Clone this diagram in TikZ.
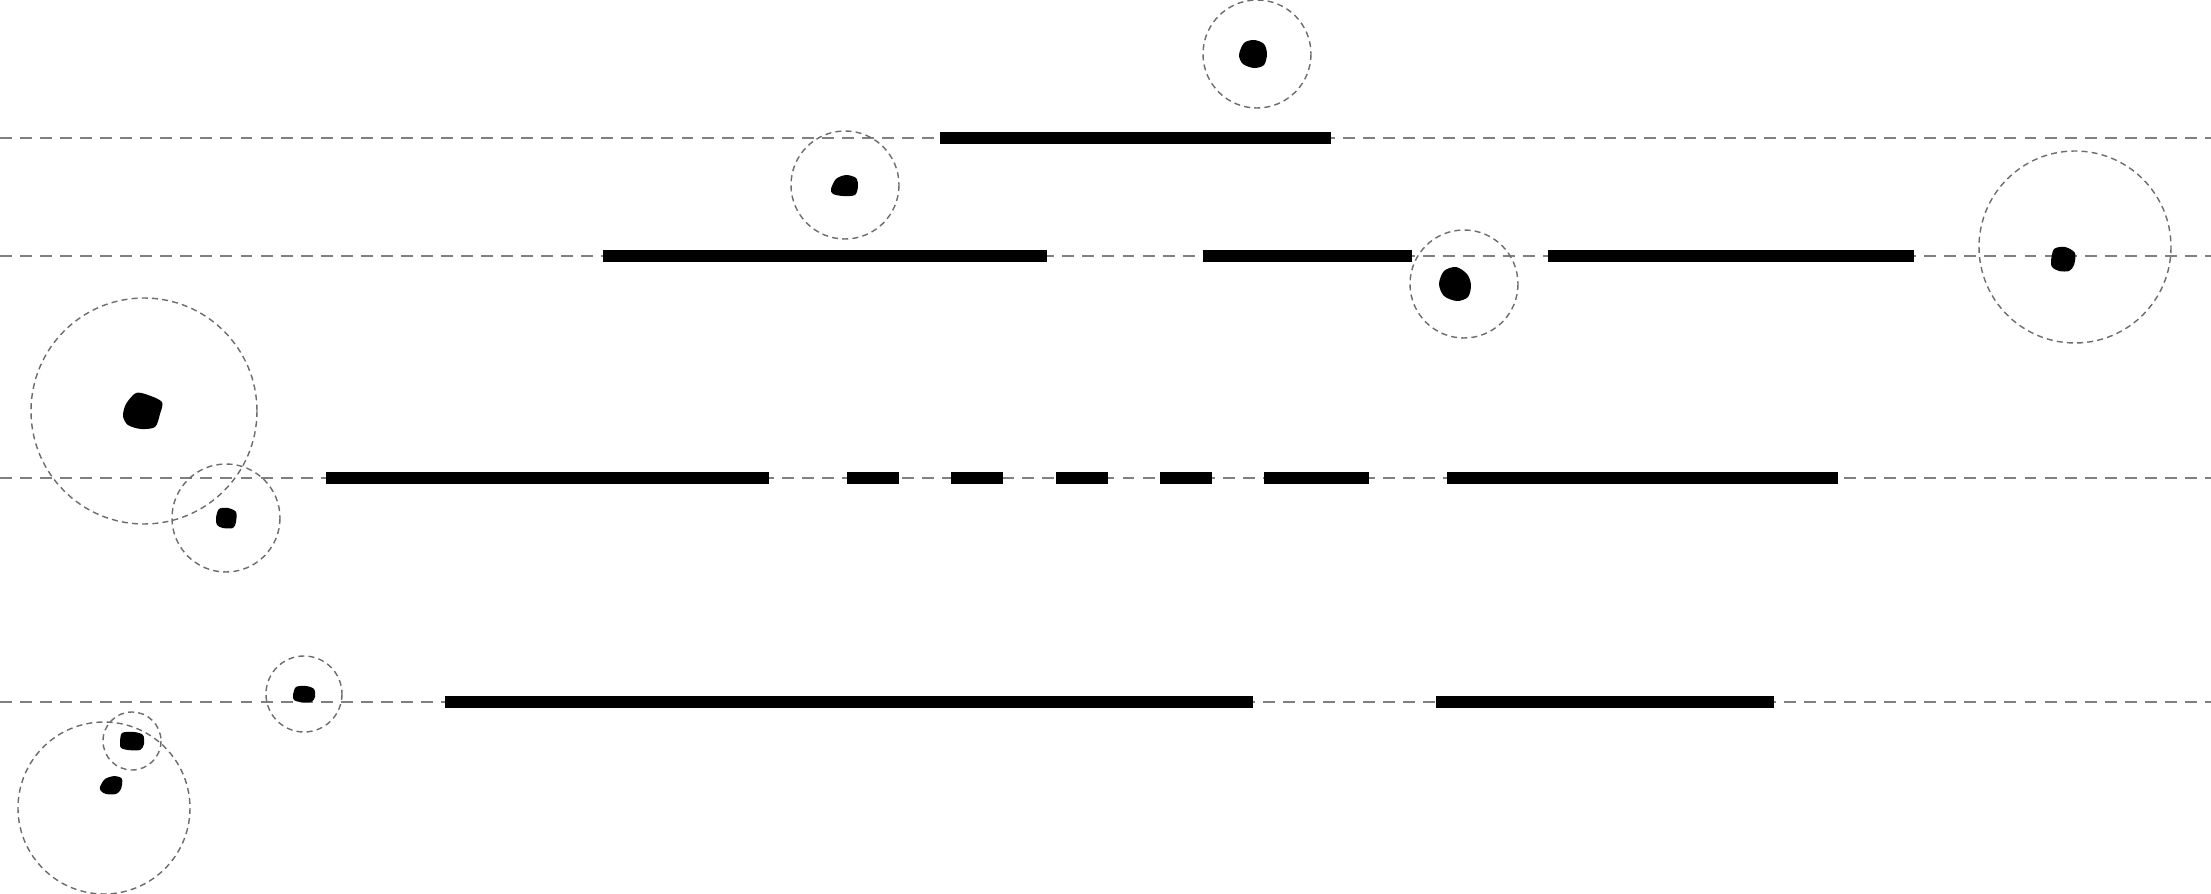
\documentclass[tikz,border=0pt]{standalone}
\usepackage{tikz}

\begin{document}
\begin{tikzpicture}[x=0.01cm,y=-0.01cm,
		guide/.style={gray,line width=0.6pt,dash pattern=on 3.4pt off 2.3pt},
		bar/.style={black,line width=0.12cm},
		halo/.style={gray!85!black,line width=0.4pt,dash pattern=on 1.7pt off 1.2pt},
		blob/.style={fill=black}]
				\useasboundingbox (0,0) rectangle (2211,894);
				% guide lines
				\draw[guide] (0,138) -- (2211,138);
				\draw[guide] (0,256) -- (2211,256);
				\draw[guide] (0,478) -- (2211,478);
				\draw[guide] (0,702) -- (2211,702);
				% bars on line 1
				\draw[bar] (940,138) -- (1331,138);
				% bars on line 2
				\draw[bar] (603,256) -- (1047,256);
				\draw[bar] (1203,256) -- (1412,256);
				\draw[bar] (1548,256) -- (1914,256);
				% bars on line 3
				\draw[bar] (326,478) -- (769,478);
				\draw[bar] (847,478) -- (899,478);
				\draw[bar] (951,478) -- (1003,478);
				\draw[bar] (1056,478) -- (1108,478);
				\draw[bar] (1160,478) -- (1212,478);
				\draw[bar] (1264,478) -- (1369,478);
				\draw[bar] (1447,478) -- (1838,478);
				% bars on line 4
				\draw[bar] (445,702) -- (1253,702);
				\draw[bar] (1436,702) -- (1774,702);
				% circles
				\draw[halo] (1257,54) circle (54);
				\draw[halo] (845,185) circle (54);
				\draw[halo] (1464,284) circle (54);
				\draw[halo] (2075,247) circle (96);
				\draw[halo] (144,411) circle (113);
				\draw[halo] (226,518) circle (54);
				\draw[halo] (304,694) circle (38);
				\draw[halo] (132,741) circle (29);
				\draw[halo] (104,808) circle (86);
				% dots
				\fill[blob,shift={(1253,54)}] plot[smooth cycle] coordinates {(-14,1) (-9,-11) (1,-14) (11,-10) (14,0) (11,11) (1,14) (-10,10)};
				\fill[blob,shift={(845,185)}] plot[smooth cycle] coordinates {(-14,4) (-9,-6) (1,-10) (11,-7) (13,1) (10,10) (-2,11) (-12,9)};
				\fill[blob,shift={(1455,284)}] plot[smooth cycle] coordinates {(-16,0) (-11,-13) (1,-17) (12,-10) (16,1) (13,13) (2,17) (-11,12)};
				\fill[blob,shift={(2063,259)}] plot[smooth cycle] coordinates {(-12,2) (-9,-10) (2,-12) (12,-6) (11,6) (6,12) (-4,12) (-11,8)};
				\fill[blob,shift={(143,411)}] plot[smooth cycle] coordinates {(-20,5) (-17,-7) (-7,-18) (5,-16) (19,-9) (17,3) (12,16) (-2,18) (-15,14)};
				\fill[blob,shift={(226,518)}] plot[smooth cycle] coordinates {(-10,0) (-7,-9) (2,-10) (10,-6) (10,4) (7,10) (-3,10) (-9,7)};
				\fill[blob,shift={(304,694)}] plot[smooth cycle] coordinates {(-11,1) (-8,-7) (2,-8) (10,-5) (11,3) (7,8) (-4,8) (-10,6)};
				\fill[blob,shift={(132,741)}] plot[smooth cycle] coordinates {(-12,2) (-10,-8) (2,-9) (11,-6) (12,3) (8,9) (-4,9) (-11,7)};
				\fill[blob,shift={(111,785)}] plot[smooth cycle] coordinates {(-11,2) (-6,-6) (4,-9) (11,-6) (10,4) (5,9) (-5,9) (-10,6)};
			\end{tikzpicture}
\end{document}
